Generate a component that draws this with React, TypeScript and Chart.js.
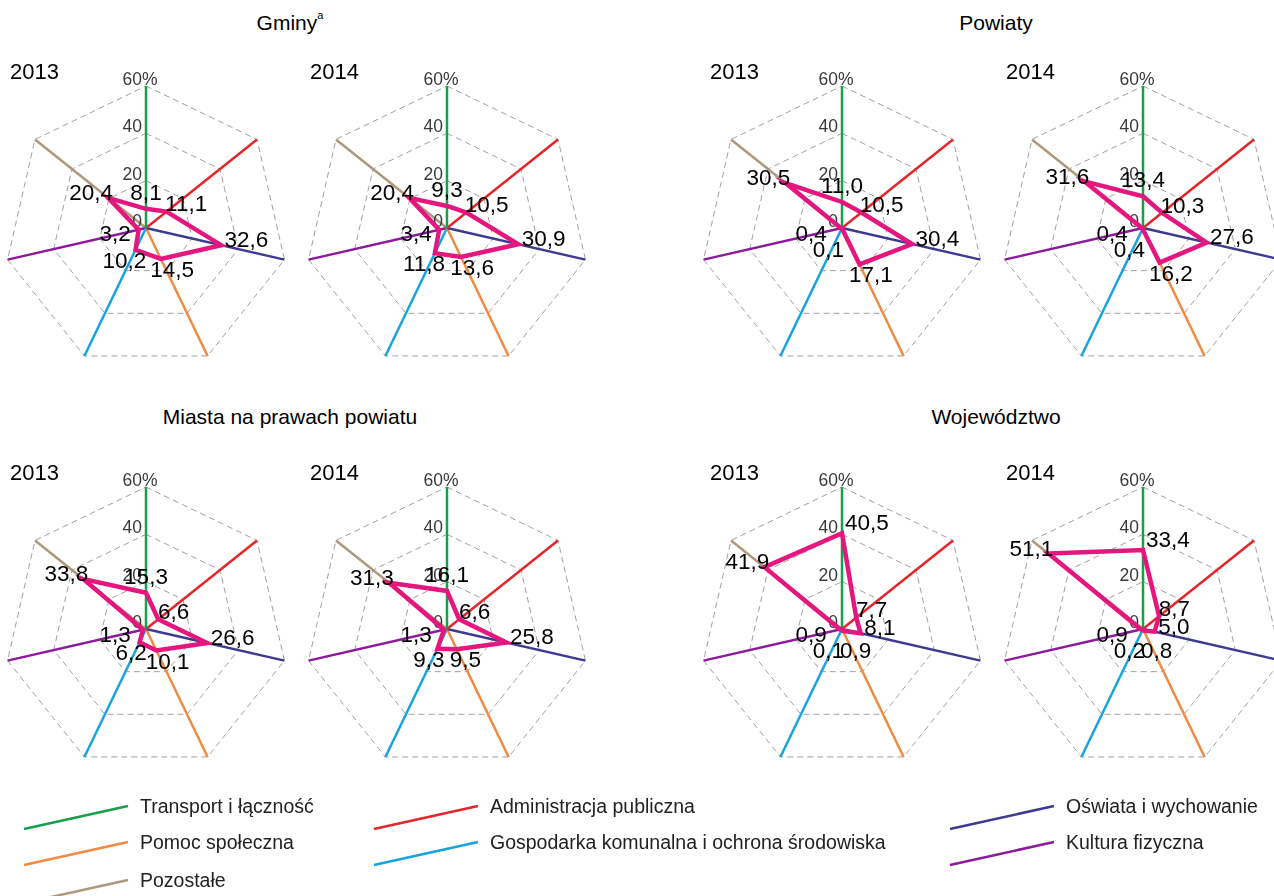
import React, { useEffect, useRef } from "react";
import { Chart, registerables } from "chart.js";

Chart.register(...registerables);

const categories = [
  "Transport i łączność",
  "Administracja publiczna",
  "Oświata i wychowanie",
  "Pomoc społeczna",
  "Gospodarka komunalna i ochrona środowiska",
  "Kultura fizyczna",
  "Pozostałe",
];

const axisColors = ["#15a04c", "#e4262b", "#3d3a8f", "#f18a42", "#17a3e0", "#8d199b", "#ad987e"];
const seriesColor = "#e5177e";

const gminy2013 = [8.1, 11.1, 32.6, 14.5, 10.2, 3.2, 20.4];
const gminy2014 = [9.3, 10.5, 30.9, 13.6, 11.8, 3.4, 20.4];
const powiaty2013 = [11.0, 10.5, 30.4, 17.1, 0.1, 0.4, 30.5];
const powiaty2014 = [13.4, 10.3, 27.6, 16.2, 0.4, 0.4, 31.6];
const miasta2013 = [15.3, 6.6, 26.6, 10.1, 6.2, 1.3, 33.8];
const miasta2014 = [16.1, 6.6, 25.8, 9.5, 9.3, 1.3, 31.3];
const woj2013 = [40.5, 7.7, 8.1, 0.9, 0.1, 0.9, 41.9];
const woj2014 = [33.4, 8.7, 5.0, 0.8, 0.2, 0.9, 51.1];

const tickValues = [0, 20, 40, 60];
const years = ["2013", "2014"];
const groupTitles = ["Gminy", "Powiaty", "Miasta na prawach powiatu", "Województwo"];

const FONT = '"Liberation Sans", Arial, Helvetica, sans-serif';

const CW = 300;
const CH = 330;
const R = 142;
const PADX = (CW - 2 * R) / 2;
const PADY = (CH - 2 * R) / 2;

const radarDecor = {
  id: "radarDecor",
  beforeDatasetsDraw(chart: any) {
    const scale = chart.scales.r;
    const ctx = chart.ctx;
    ctx.save();
    ctx.font = `17.5px ${FONT}`;
    ctx.fillStyle = "#3a3a3a";
    ctx.textBaseline = "alphabetic";
    ctx.textAlign = "left";
    tickValues.forEach((v) => {
      const d = scale.getDistanceFromCenterForValue(v);
      const y = scale.yCenter - d - 1;
      const num = String(v);
      const w = ctx.measureText(num).width;
      ctx.fillText(v === tickValues[tickValues.length - 1] ? num + "%" : num, scale.xCenter - 4 - w, y);
    });
    ctx.restore();
  },
  afterDatasetsDraw(chart: any) {
    const scale = chart.scales.r;
    const ctx = chart.ctx;
    const vals: number[] = chart.data.datasets[0].data;
    ctx.save();
    ctx.font = `22.5px ${FONT}`;
    ctx.fillStyle = "#000";
    ctx.textAlign = "center";
    ctx.textBaseline = "middle";
    const h = 16;
    vals.forEach((v, i) => {
      const text = v.toFixed(1).replace(".", ",");
      const w = ctx.measureText(text).width;
      const ang = scale.getIndexAngle(i) - Math.PI / 2;
      const c = Math.cos(ang);
      const s = Math.sin(ang);
      const dist = scale.getDistanceFromCenterForValue(v);
      const p = scale.getPointPosition(i, Math.max(dist, 12));
      const real = scale.getPointPosition(i, dist);
      let cx = p.x + c * (4 + w / 2);
      let cy = p.y + s * (4 + h / 2);
      if (i === 0) {
        if (v > 25) {
          cx = real.x + 3 + w / 2;
          cy = real.y - 10;
        } else {
          cx = real.x;
          cy = real.y - 16;
        }
      } else if (i === 2) {
        cy -= 8;
      } else if (i === 6) {
        cx = p.x + c * (w / 2);
        cy = p.y + s * (h / 2);
      }
      ctx.fillText(text, cx, cy + 1);
    });
    ctx.restore();
  },
};

function RadarChart({ values, cx, cy }: { values: number[]; cx: number; cy: number }) {
  const ref = useRef<HTMLCanvasElement | null>(null);
  useEffect(() => {
    if (!ref.current) return;
    const chart = new Chart(ref.current, {
      type: "radar",
      data: {
        labels: categories,
        datasets: [
          {
            data: values,
            borderColor: seriesColor,
            borderWidth: 4.5,
            fill: false,
            pointRadius: 0,
            pointHoverRadius: 0,
            tension: 0,
            borderJoinStyle: "miter",
          } as any,
        ],
      },
      options: {
        responsive: false,
        animation: false,
        events: [],
        layout: { padding: { left: PADX, right: PADX, top: PADY, bottom: PADY } },
        plugins: { legend: { display: false }, tooltip: { enabled: false } },
        scales: {
          r: {
            min: 0,
            max: 60,
            ticks: { display: false, stepSize: 20 },
            pointLabels: { display: false },
            grid: { circular: false, color: "#a0a0a0", lineWidth: 1, borderDash: [6, 4] } as any,
            border: { dash: [6, 4] } as any,
            angleLines: {
              display: true,
              color: (ctx: any) => axisColors[ctx.index],
              lineWidth: 2.5,
            },
          },
        },
      } as any,
      plugins: [radarDecor],
    });
    return () => chart.destroy();
  }, [values]);
  return (
    <canvas
      ref={ref}
      width={CW}
      height={CH}
      style={{
        position: "absolute",
        left: cx - PADX - R,
        top: cy - PADY - R,
        width: CW,
        height: CH,
      }}
    />
  );
}

const legendItems = [
  { label: categories[0], color: axisColors[0], x: 140, y: 807 },
  { label: categories[1], color: axisColors[1], x: 490, y: 807 },
  { label: categories[2], color: axisColors[2], x: 1066, y: 807 },
  { label: categories[3], color: axisColors[3], x: 140, y: 843 },
  { label: categories[4], color: axisColors[4], x: 490, y: 843 },
  { label: categories[5], color: axisColors[5], x: 1066, y: 843 },
  { label: categories[6], color: axisColors[6], x: 140, y: 881 },
];

export default function App() {
  const charts = [
    { values: gminy2013, cx: 146, cy: 228, year: years[0], yx: 10 },
    { values: gminy2014, cx: 447, cy: 228, year: years[1], yx: 310 },
    { values: powiaty2013, cx: 842, cy: 228, year: years[0], yx: 710 },
    { values: powiaty2014, cx: 1143, cy: 228, year: years[1], yx: 1006 },
    { values: miasta2013, cx: 146, cy: 629, year: years[0], yx: 10 },
    { values: miasta2014, cx: 447, cy: 629, year: years[1], yx: 310 },
    { values: woj2013, cx: 842, cy: 629, year: years[0], yx: 710 },
    { values: woj2014, cx: 1143, cy: 629, year: years[1], yx: 1006 },
  ];
  const titles = [
    { text: groupTitles[0], sup: "a", x: 290, y: 22 },
    { text: groupTitles[1], sup: "", x: 996, y: 22 },
    { text: groupTitles[2], sup: "", x: 290, y: 416 },
    { text: groupTitles[3], sup: "", x: 996, y: 416 },
  ];
  return (
    <div
      style={{
        position: "absolute",
        left: 0,
        top: 0,
        width: 1274,
        height: 896,
        overflow: "hidden",
        background: "#fff",
        fontFamily: FONT,
      }}
    >
      {charts.map((c, i) => (
        <RadarChart key={i} values={c.values} cx={c.cx} cy={c.cy} />
      ))}
      {charts.map((c, i) => (
        <div
          key={"y" + i}
          style={{
            position: "absolute",
            left: c.yx,
            top: c.cy - 156,
            transform: "translateY(-50%)",
            fontSize: 22,
            color: "#000",
            lineHeight: 1,
            whiteSpace: "nowrap",
          }}
        >
          {c.year}
        </div>
      ))}
      {titles.map((t, i) => (
        <div
          key={"t" + i}
          style={{
            position: "absolute",
            left: t.x,
            top: t.y,
            transform: "translate(-50%, -50%)",
            fontSize: 21,
            color: "#000",
            lineHeight: 1,
            whiteSpace: "nowrap",
          }}
        >
          {t.text}
          {t.sup ? (
            <span style={{ fontSize: 11, verticalAlign: "top", position: "relative", top: -2 }}>{t.sup}</span>
          ) : null}
        </div>
      ))}
      <svg
        width={1274}
        height={896}
        style={{ position: "absolute", left: 0, top: 0, pointerEvents: "none" }}
      >
        {legendItems.map((it, i) => (
          <line
            key={i}
            x1={it.x - 116}
            y1={it.y + 22}
            x2={it.x - 12}
            y2={it.y - 1}
            stroke={it.color}
            strokeWidth={2.5}
          />
        ))}
      </svg>
      {legendItems.map((it, i) => (
        <div
          key={"l" + i}
          style={{
            position: "absolute",
            left: it.x,
            top: it.y,
            transform: "translateY(-50%)",
            fontSize: 19.5,
            color: "#222",
            lineHeight: 1,
            whiteSpace: "nowrap",
          }}
        >
          {it.label}
        </div>
      ))}
    </div>
  );
}
